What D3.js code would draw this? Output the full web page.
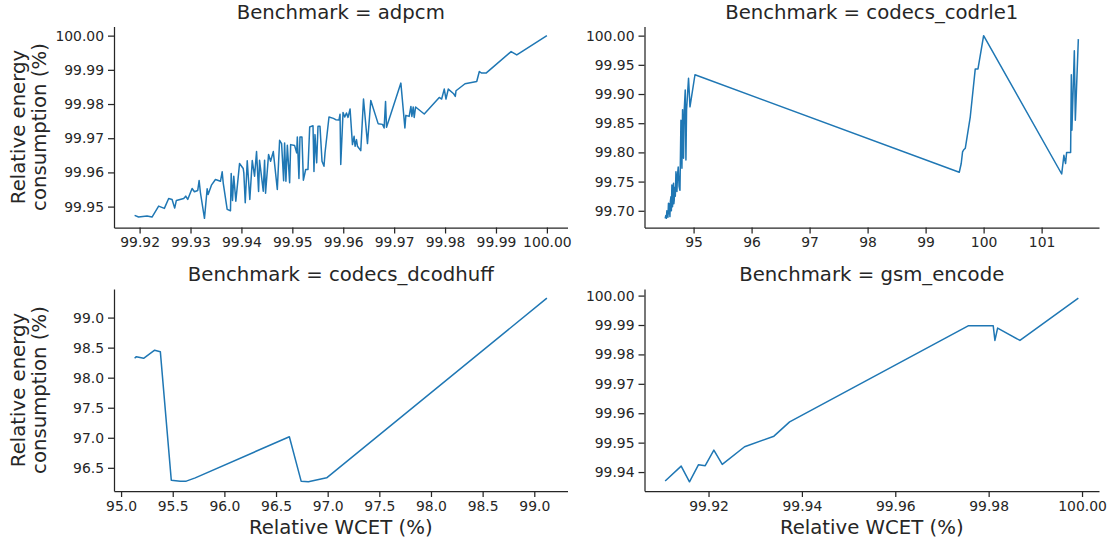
<!DOCTYPE html>
<meta charset="utf-8">
<head>
  <script src="https://d3js.org/d3.v7.min.js"></script>
  <style>
    body { margin: 0; background: #fff; }
    text { font-family: "DejaVu Sans", sans-serif; fill: #262626; }
    .domain, .tick line { stroke: #262626; stroke-width: 1.25px; }
  </style>
</head>
<body>
<div id="viz"></div>
<script>
// adpcm
const adpcmX = [
  99.91902, 99.91980, 99.92146, 99.92244, 99.92374, 99.92486, 99.92571, 99.92638, 99.92689, 99.92722,
  99.92866, 99.92906, 99.92945, 99.93031, 99.93077, 99.93142, 99.93169, 99.93195, 99.93274, 99.93327,
  99.93346, 99.93411, 99.93490, 99.93589, 99.93622, 99.93642, 99.93720, 99.93785, 99.93799, 99.93825,
  99.93850, 99.93890, 99.93963, 99.94035, 99.94047, 99.94075, 99.94114, 99.94165, 99.94213, 99.94258,
  99.94297, 99.94337, 99.94356, 99.94429, 99.94455, 99.94474, 99.94533, 99.94573, 99.94626, 99.94705,
  99.94750, 99.94789, 99.94829, 99.94848, 99.94874, 99.94902, 99.94947, 99.94967, 99.95045, 99.95085,
  99.95098, 99.95130, 99.95150, 99.95189, 99.95217, 99.95262, 99.95307, 99.95341, 99.95406, 99.95425,
  99.95445, 99.95478, 99.95504, 99.95543, 99.95583, 99.95622, 99.95642, 99.95720, 99.95807, 99.95852,
  99.95917, 99.95937, 99.95951, 99.95996, 99.96030, 99.96063, 99.96094, 99.96134, 99.96181, 99.96213,
  99.96232, 99.96260, 99.96280, 99.96344, 99.96398, 99.96476, 99.96541, 99.96685, 99.96772, 99.96803,
  99.96831, 99.96850, 99.97132, 99.97211, 99.97230, 99.97295, 99.97329, 99.97348, 99.97374, 99.97394,
  99.97421, 99.97591, 99.97886, 99.97933, 99.97984, 99.98018, 99.98063, 99.98169, 99.98201, 99.98215,
  99.98392, 99.98622, 99.98673, 99.98720, 99.98805, 99.99297, 99.99409, 100.00000
];
const adpcmY = [
  99.94743, 99.94694, 99.94723, 99.94694, 99.95015, 99.94948, 99.95239, 99.95210, 99.94956, 99.95181,
  99.95239, 99.95306, 99.95210, 99.95531, 99.95434, 99.95472, 99.95764, 99.95405, 99.94656, 99.95522,
  99.95356, 99.95627, 99.95793, 99.95743, 99.96017, 99.95697, 99.94918, 99.94880, 99.95968, 99.95181,
  99.95889, 99.95160, 99.96259, 99.96114, 99.95988, 99.95114, 99.96338, 99.95210, 99.96347, 99.95889,
  99.96609, 99.95443, 99.96356, 99.95452, 99.96356, 99.95394, 99.96522, 99.96327, 99.96609, 99.95501,
  99.96939, 99.96843, 99.95755, 99.96863, 99.95743, 99.96793, 99.95697, 99.96813, 99.96784, 99.96571,
  99.97038, 99.95822, 99.97038, 99.97038, 99.95773, 99.96085, 99.96085, 99.97329, 99.97367, 99.96026,
  99.97105, 99.96280, 99.97347, 99.97347, 99.96327, 99.96181, 99.96571, 99.97621, 99.97580, 99.97542,
  99.97533, 99.97703, 99.96230, 99.97755, 99.97621, 99.97738, 99.97609, 99.97854, 99.96813, 99.97055,
  99.96764, 99.96959, 99.96764, 99.96638, 99.98146, 99.96843, 99.98105, 99.97426, 99.97405, 99.97300,
  99.98076, 99.97318, 99.98612, 99.97300, 99.97668, 99.97638, 99.97930, 99.97638, 99.97913, 99.97609,
  99.97913, 99.97708, 99.98192, 99.98146, 99.98437, 99.98146, 99.98437, 99.98300, 99.98222, 99.98388,
  99.98592, 99.98659, 99.98950, 99.98904, 99.98904, 99.99534, 99.99437, 100.00000
];
const adpcmXTicks = [99.92, 99.93, 99.94, 99.95, 99.96, 99.97, 99.98, 99.99, 100.00];
const adpcmYTicks = [99.95, 99.96, 99.97, 99.98, 99.99, 100.00];

// codecs_codrle1
const codrleX = [
  94.510, 94.522, 94.531, 94.540, 94.550, 94.558, 94.567, 94.575, 94.583, 94.592,
  94.600, 94.609, 94.617, 94.626, 94.637, 94.645, 94.654, 94.660, 94.666, 94.675,
  94.685, 94.696, 94.713, 94.722, 94.735, 94.750, 94.765, 94.782, 94.799, 94.810,
  94.827, 94.839, 94.856, 94.868, 94.879, 94.913, 94.938, 95.024, 99.580, 99.614,
  99.637, 99.654, 99.684, 99.770, 99.856, 99.903, 100.000, 101.346, 101.384, 101.413,
  101.431, 101.500, 101.512, 101.522, 101.564, 101.581, 101.633
];
const codrleY = [
  99.687, 99.692, 99.687, 99.700, 99.698, 99.689, 99.713, 99.695, 99.712, 99.690,
  99.716, 99.724, 99.700, 99.744, 99.707, 99.735, 99.747, 99.712, 99.718, 99.740,
  99.725, 99.767, 99.733, 99.760, 99.775, 99.742, 99.735, 99.855, 99.773, 99.873,
  99.790, 99.873, 99.907, 99.787, 99.873, 99.927, 99.878, 99.933, 99.766, 99.781,
  99.801, 99.804, 99.807, 99.861, 99.943, 99.943, 100.000, 99.763, 99.795, 99.781,
  99.800, 99.800, 99.933, 99.838, 99.974, 99.855, 99.994
];
const codrleXTicks = [95, 96, 97, 98, 99, 100, 101];
const codrleYTicks = [99.70, 99.75, 99.80, 99.85, 99.90, 99.95, 100.00];

// codecs_dcodhuff
const dcodX = [95.131, 95.148, 95.218, 95.325, 95.380, 95.486, 95.573, 95.631, 95.718, 96.629, 96.743, 96.813, 96.990, 99.122];
const dcodY = [98.323, 98.350, 98.323, 98.457, 98.433, 96.295, 96.278, 96.278, 96.333, 97.017, 96.278, 96.267, 96.333, 99.323];
const dcodXTicks = [95.0, 95.5, 96.0, 96.5, 97.0, 97.5, 98.0, 98.5, 99.0];
const dcodYTicks = [96.5, 97.0, 97.5, 98.0, 98.5, 99.0];

// gsm_encode
const gsmX = [99.91071, 99.91414, 99.91592, 99.91786, 99.91929, 99.92114, 99.92294, 99.92772, 99.93401, 99.93737, 99.97561, 99.98098, 99.98134, 99.98192, 99.98670, 99.99921];
const gsmY = [99.93695, 99.94203, 99.93668, 99.94251, 99.94217, 99.94746, 99.94261, 99.94861, 99.95220, 99.95708, 99.98973, 99.98973, 99.98475, 99.98895, 99.98475, 99.99912];
const gsmXTicks = [99.92, 99.94, 99.96, 99.98, 100.00];
const gsmYTicks = [99.94, 99.95, 99.96, 99.97, 99.98, 99.99, 100.00];

const panels = [
  { name: "adpcm", xs: adpcmX, ys: adpcmY, xt: adpcmXTicks, yt: adpcmYTicks, xd: 2, yd: 2, col: 0, row: 0 },
  { name: "codecs_codrle1", xs: codrleX, ys: codrleY, xt: codrleXTicks, yt: codrleYTicks, xd: 0, yd: 2, col: 1, row: 0 },
  { name: "codecs_dcodhuff", xs: dcodX, ys: dcodY, xt: dcodXTicks, yt: dcodYTicks, xd: 1, yd: 1, col: 0, row: 1 },
  { name: "gsm_encode", xs: gsmX, ys: gsmY, xt: gsmXTicks, yt: gsmYTicks, xd: 2, yd: 2, col: 1, row: 1 }
];

var config = { width: 1116, height: 545 };
var cols = [[114, 567.5], [644.5, 1099]];
var rows = [[26.5, 227.5], [289, 491]];

var svg = d3.select("#viz").append("svg")
  .attr("width", config.width)
  .attr("height", config.height);

// matplotlib-like 5% margins around the data
function padded(vals) {
  var ext = d3.extent(vals), pad = (ext[1] - ext[0]) * 0.05;
  return [ext[0] - pad, ext[1] + pad];
}

panels.forEach(function(p) {
  var cx = cols[p.col], ry = rows[p.row];
  var x = d3.scaleLinear().domain(padded(p.xs)).range(cx);
  var y = d3.scaleLinear().domain(padded(p.ys)).range([ry[1], ry[0]]);
  var g = svg.append("g");

  g.append("g")
    .attr("transform", "translate(0," + ry[1] + ")")
    .call(d3.axisBottom(x).tickValues(p.xt).tickFormat(d3.format("." + p.xd + "f"))
      .tickSize(6).tickSizeOuter(0).tickPadding(4))
    .selectAll("text").attr("font-size", 13.9).attr("font-family", null);

  g.append("g")
    .attr("transform", "translate(" + cx[0] + ",0)")
    .call(d3.axisLeft(y).tickValues(p.yt).tickFormat(d3.format("." + p.yd + "f"))
      .tickSize(6).tickSizeOuter(0).tickPadding(4))
    .selectAll("text").attr("font-size", 13.9).attr("font-family", null);

  g.append("path")
    .datum(d3.range(p.xs.length))
    .attr("fill", "none")
    .attr("stroke", "#1f77b4")
    .attr("stroke-width", 1.5)
    .attr("stroke-linejoin", "round")
    .attr("d", d3.line().x(function(i) { return x(p.xs[i]); }).y(function(i) { return y(p.ys[i]); }));

  g.append("text")
    .attr("x", (cx[0] + cx[1]) / 2)
    .attr("y", ry[0] - 8)
    .attr("text-anchor", "middle")
    .attr("font-size", 19.7)
    .text("Benchmark = " + p.name);

  if (p.row == 1) {
    g.append("text")
      .attr("x", (cx[0] + cx[1]) / 2)
      .attr("y", 534)
      .attr("text-anchor", "middle")
      .attr("font-size", 19.7)
      .text("Relative WCET (%)");
  }
  if (p.col == 0) {
    var lab = g.append("text")
      .attr("transform", "translate(25," + (ry[0] + ry[1]) / 2 + ") rotate(-90)")
      .attr("text-anchor", "middle")
      .attr("font-size", 19.7);
    lab.append("tspan").attr("x", 0).attr("dy", 0).text("Relative energy");
    lab.append("tspan").attr("x", 0).attr("dy", 20.5).text("consumption (%)");
  }
});
</script>
</body>
